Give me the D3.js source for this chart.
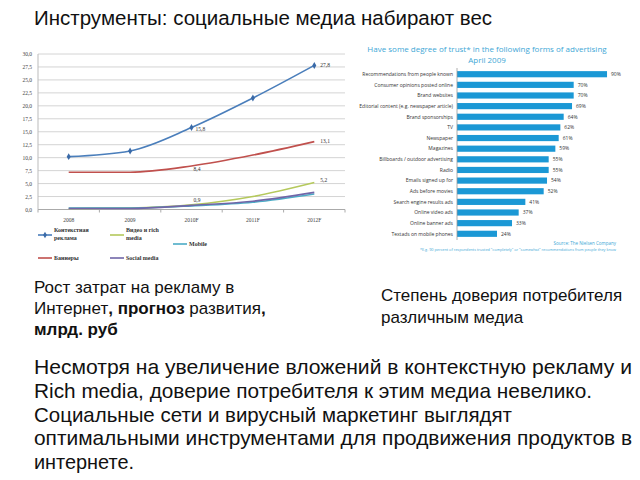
<!DOCTYPE html>
<meta charset='utf-8'>
<style>
  body { margin: 0; background: #fff; }
  svg { display: block; }
</style>
<body>
<script src='https://d3js.org/d3.v7.min.js'></script>
<script>
  // line chart data, billions of roubles
  const years = ['2008', '2009', '2010F', '2011F', '2012F'];
  const context = [10.2, 11.3, 15.8, 21.5, 27.8];
  const banners = [7.2, 7.2, 8.4, 10.5, 13.1];
  const video = [0.2, 0.3, 0.9, 2.5, 5.2];
  const mobile = [0.3, 0.3, 0.7, 1.4, 3.0];
  const social = [0.2, 0.2, 0.8, 1.6, 3.3];
  const yTicks = d3.range(0, 30.01, 2.5);

  // trust in advertising, April 2009
  const trustCats = ['Recommendations from people known', 'Consumer opinions posted online', 'Brand websites',
    'Editorial content (e.g. newspaper article)', 'Brand sponsorships', 'TV', 'Newspaper', 'Magazines',
    'Billboards / outdoor advertising', 'Radio', 'Emails signed up for', 'Ads before movies',
    'Search engine results ads', 'Online video ads', 'Online banner ads', 'Textads on mobile phones'];
  const trustVals = [90, 70, 70, 69, 64, 62, 61, 59, 55, 55, 54, 52, 41, 37, 33, 24];

  const svg = d3.select('body').append('svg')
    .attr('width', 640)
    .attr('height', 480);

  const sans = "'Liberation Sans', Arial, sans-serif";
  const narrow = "'Liberation Sans Narrow', 'Arial Narrow', 'Liberation Sans', sans-serif";
  const serif = "'Liberation Serif', 'Times New Roman', serif";
  const fmt = d => d3.format('.1f')(d).replace('.', ',');

  // slide title
  svg.append('text')
    .attr('x', 34).attr('y', 25)
    .attr('font-family', sans).attr('font-size', 20.5)
    .attr('fill', '#111')
    .text('Инструменты: социальные медиа набирают вес');

  // ---------- line chart ----------
  const x = d3.scalePoint().domain(years).range([38, 345]).padding(0.5);
  const y = d3.scaleLinear().domain([0, 30]).range([209.5, 54]);

  const lc = svg.append('g');

  lc.append('g').selectAll('line')
    .data(yTicks)
    .join('line')
      .attr('x1', 38).attr('x2', 345)
      .attr('y1', d => y(d)).attr('y2', d => y(d))
      .attr('stroke', d => d === 0 ? '#aaa' : '#d4d4d4')
      .attr('stroke-width', 1);

  lc.append('line')
    .attr('x1', 38).attr('x2', 38)
    .attr('y1', y(30)).attr('y2', y(0))
    .attr('stroke', '#bbb');

  lc.append('g').selectAll('text')
    .data(yTicks)
    .join('text')
      .attr('x', 32).attr('y', d => y(d) + 2)
      .attr('text-anchor', 'end')
      .attr('font-family', serif).attr('font-size', 5.5)
      .attr('fill', '#444')
      .text(fmt);

  // category ticks
  const step = x.step();
  lc.append('g').selectAll('line')
    .data(d3.range(years.length + 1))
    .join('line')
      .attr('x1', i => 38 + i * step).attr('x2', i => 38 + i * step)
      .attr('y1', y(0)).attr('y2', y(0) + 3)
      .attr('stroke', '#aaa');

  lc.append('g').selectAll('text')
    .data(years)
    .join('text')
      .attr('x', d => x(d)).attr('y', 222)
      .attr('text-anchor', 'middle')
      .attr('font-family', serif).attr('font-size', 5.5)
      .attr('fill', '#444')
      .text(d => d);

  const series = [
    { name: 'Контекстная реклама', vals: context, color: '#4a7ebb' },
    { name: 'Баннеры', vals: banners, color: '#c0504d' },
    { name: 'Видео и rich media', vals: video, color: '#b5c95c' },
    { name: 'Mobile', vals: mobile, color: '#4bacc6' },
    { name: 'Social media', vals: social, color: '#7066a8' }
  ];

  const line = d3.line()
    .x((d, i) => x(years[i]))
    .y(d => y(d))
    .curve(d3.curveMonotoneX);

  lc.append('g').selectAll('path')
    .data(series)
    .join('path')
      .attr('d', s => line(s.vals))
      .attr('fill', 'none')
      .attr('stroke', s => s.color)
      .attr('stroke-width', 1.6);

  // markers on the context line
  lc.append('g').selectAll('path')
    .data(context)
    .join('path')
      .attr('d', d3.symbol(d3.symbolDiamond, 14))
      .attr('transform', (d, i) => `translate(${x(years[i])},${y(d)})`)
      .attr('fill', '#3a6aa8');

  // data labels
  const labels = [
    { s: context, i: 4, dx: 6, dy: 2 },
    { s: context, i: 2, dx: 4, dy: 3 },
    { s: banners, i: 4, dx: 6, dy: 1 },
    { s: banners, i: 2, dx: 2, dy: 5 },
    { s: video, i: 4, dx: 6, dy: -1 },
    { s: video, i: 2, dx: 2, dy: -3 }
  ];
  lc.append('g').selectAll('text')
    .data(labels)
    .join('text')
      .attr('x', d => x(years[d.i]) + d.dx)
      .attr('y', d => y(d.s[d.i]) + d.dy)
      .attr('font-family', serif).attr('font-size', 5.5)
      .attr('fill', '#333')
      .text(d => fmt(d.s[d.i]));

  // legend
  const legend = [
    { s: series[0], x: 38, y: 235, lines: ['Контекстная', 'реклама'] },
    { s: series[2], x: 110, y: 235, lines: ['Видео и rich', 'media'] },
    { s: series[3], x: 173, y: 244, lines: ['Mobile'] },
    { s: series[1], x: 38, y: 258, lines: ['Баннеры'] },
    { s: series[4], x: 110, y: 258, lines: ['Social media'] }
  ];
  const lg = lc.append('g').selectAll('g')
    .data(legend)
    .join('g')
      .attr('transform', d => `translate(${d.x},${d.y})`);
  lg.append('line')
    .attr('x1', 0).attr('x2', 14)
    .attr('stroke', d => d.s.color)
    .attr('stroke-width', 1.6);
  lg.filter(d => d.s === series[0]).append('path')
    .attr('d', d3.symbol(d3.symbolDiamond, 12))
    .attr('transform', 'translate(7,0)')
    .attr('fill', '#3a6aa8');
  lg.append('text')
    .attr('x', 16)
    .attr('font-family', serif).attr('font-size', 6)
    .attr('font-weight', 'bold')
    .attr('fill', '#333')
    .selectAll('tspan')
    .data(d => d.lines.map((t, i) => ({ t, i, n: d.lines.length })))
    .join('tspan')
      .attr('x', 16)
      .attr('y', d => (d.n === 1 ? 2 : -3 + d.i * 8))
      .text(d => d.t);

  // ---------- bar chart ----------
  const bx = d3.scaleLinear().domain([0, 100]).range([457, 457 + 166.7]);
  const by = d3.scaleBand().domain(trustCats).range([69, 239]).paddingInner(0.42).paddingOuter(0.2);

  const bc = svg.append('g');
  const titleColor = '#3ea7d6';

  bc.append('text')
    .attr('x', 487).attr('y', 52)
    .attr('text-anchor', 'middle')
    .attr('font-family', "'Open Sans', sans-serif").attr('font-size', 8)
    .attr('fill', titleColor)
    .selectAll('tspan')
    .data(['Have some degree of trust* in the following forms of advertising', 'April 2009'])
    .join('tspan')
      .attr('x', 487)
      .attr('dy', (d, i) => i ? 11 : 0)
      .text(d => d);

  bc.append('g').selectAll('rect')
    .data(trustVals)
    .join('rect')
      .attr('x', bx(0))
      .attr('y', (d, i) => by(trustCats[i]))
      .attr('width', d => bx(d) - bx(0))
      .attr('height', by.bandwidth())
      .attr('fill', '#1b98d5');

  bc.append('line')
    .attr('x1', bx(0)).attr('x2', bx(0))
    .attr('y1', 68).attr('y2', 240)
    .attr('stroke', '#999').attr('stroke-width', 0.8);

  bc.append('g').selectAll('text')
    .data(trustCats)
    .join('text')
      .attr('x', bx(0) - 4)
      .attr('y', d => by(d) + by.bandwidth() / 2 + 1.8)
      .attr('text-anchor', 'end')
      .attr('font-family', "'Open Sans', sans-serif").attr('font-size', 5)
      .attr('fill', '#333')
      .text(d => d);

  bc.append('g').selectAll('text')
    .data(trustVals)
    .join('text')
      .attr('x', d => bx(d) + 4)
      .attr('y', (d, i) => by(trustCats[i]) + by.bandwidth() / 2 + 1.8)
      .attr('font-family', "'Open Sans', sans-serif").attr('font-size', 5)
      .attr('fill', '#333')
      .text(d => d + '%');

  bc.append('text')
    .attr('x', 616).attr('y', 245)
    .attr('text-anchor', 'end')
    .attr('font-family', "'Open Sans', sans-serif").attr('font-size', 4.5)
    .attr('fill', titleColor)
    .text('Source: The Nielsen Company');
  bc.append('text')
    .attr('x', 616).attr('y', 251)
    .attr('text-anchor', 'end')
    .attr('font-family', "'Open Sans', sans-serif").attr('font-size', 3.8)
    .attr('fill', titleColor)
    .text('*E.g. 90 percent of respondents trusted "completely" or "somewhat" recommendations from people they know');

  // ---------- captions ----------
  const cap1 = svg.append('text')
    .attr('font-family', sans).attr('font-size', 17)
    .attr('fill', '#111');
  cap1.append('tspan').attr('x', 34).attr('y', 293).text('Рост затрат на рекламу в');
  const l2 = cap1.append('tspan').attr('x', 34).attr('y', 314);
  l2.append('tspan').text('Интернет');
  l2.append('tspan').attr('font-weight', 'bold').text(', прогноз ');
  l2.append('tspan').text(' развития');
  l2.append('tspan').attr('font-weight', 'bold').text(',');
  cap1.append('tspan').attr('x', 34).attr('y', 335).attr('font-weight', 'bold').text('млрд. руб');

  const cap2 = svg.append('text')
    .attr('font-family', sans).attr('font-size', 17)
    .attr('fill', '#111');
  cap2.append('tspan').attr('x', 381).attr('y', 301).text('Степень доверия потребителя');
  cap2.append('tspan').attr('x', 381).attr('y', 323).text('различным медиа');

  // paragraph
  const para = [
    { t: 'Несмотря на увеличение вложений в контекстную рекламу и', w: 598 },
    { t: 'Rich media, доверие потребителя к этим медиа невелико.', w: 558 },
    { t: 'Социальные сети и вирусный маркетинг выглядят', w: 478 },
    { t: 'оптимальными инструментами для продвижения продуктов в', w: 598 },
    { t: 'интернете.', w: 100 }
  ];
  svg.append('g').selectAll('text')
    .data(para)
    .join('text')
      .attr('x', 34)
      .attr('y', (d, i) => 374 + i * 23.8)
      .attr('font-family', narrow).attr('font-size', 21)
      .attr('fill', '#111')
      .attr('textLength', d => d.w)
      .attr('lengthAdjust', 'spacingAndGlyphs')
      .text(d => d.t);
</script>
